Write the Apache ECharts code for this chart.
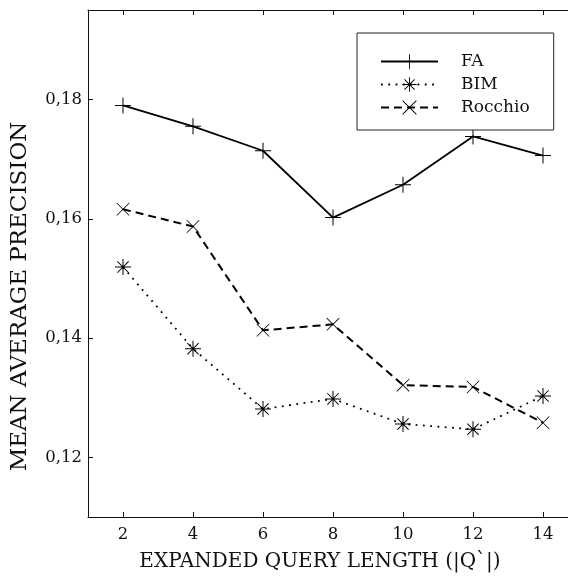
<!DOCTYPE html>
<html><head><meta charset="utf-8">
<script src="https://cdn.jsdelivr.net/npm/echarts@6/dist/echarts.min.js"></script>
<style>html,body{margin:0;padding:0;background:#fff}#c{width:568px;height:577px}</style>
</head><body><div id="c"></div>
<script>
const xValues = [2, 4, 6, 8, 10, 12, 14];
const faValues = [0.1790, 0.1755, 0.1714, 0.1602, 0.1657, 0.1738, 0.1706];
const bimValues = [0.1519, 0.1382, 0.1281, 0.1298, 0.1256, 0.1247, 0.1303];
const rocchioValues = [0.1616, 0.1587, 0.1413, 0.1423, 0.1321, 0.1318, 0.1258];
const xTicks = [2, 4, 6, 8, 10, 12, 14];
const yTicks = [0.12, 0.14, 0.16, 0.18];
const seriesNames = ['FA', 'BIM', 'Rocchio'];

const FONT = 'DejaVu Serif';
const plusSym = 'path://M0,7.5L16,7.5L16,8.5L0,8.5Z M7.5,0L8.5,0L8.5,16L7.5,16Z';
const starSym = 'path://M0,7.5L16,7.5L16,8.5L0,8.5Z M7.5,0L8.5,0L8.5,16L7.5,16Z M2,2.7L2.7,2L14,13.3L13.3,14Z M13.3,2L14,2.7L2.7,14L2,13.3Z M6.6,6.6L9.4,6.6L9.4,9.4L6.6,9.4Z';
const xSym = 'path://M0,0.6L0.6,0L14,13.4L13.4,14Z M13.4,0L14,0.6L0.6,14L0,13.4Z';

const pairs = v => xValues.map((x, i) => [x, v[i]]);
const chart = echarts.init(document.getElementById('c'));
const axisLine = {show: true, lineStyle: {color: '#111', width: 1}};
const tick = {show: true, inside: true, length: 5, lineStyle: {color: '#111', width: 1}};
const X_MAX = 1 + 480 / 35;
chart.setOption({
  animation: false,
  backgroundColor: '#fff',
  grid: {left: 88, top: 10, bottom: 60, right: 0},
  xAxis: [{
    type: 'value', min: 1, max: X_MAX, position: 'bottom',
    axisLine, splitLine: {show: false},
    axisTick: Object.assign({}, tick, {customValues: xTicks}),
    axisLabel: {customValues: xTicks, fontFamily: FONT, fontSize: 16.5, color: '#111', margin: 9},
    name: 'EXPANDED QUERY LENGTH (|Q`|)', nameLocation: 'middle', nameGap: 35, nameMoveOverlap: false,
    nameTextStyle: {fontFamily: FONT, fontSize: 20, color: '#111', padding: [0, 16, 0, 0]}
  }, {
    type: 'value', min: 1, max: X_MAX, position: 'top',
    axisLine, splitLine: {show: false},
    axisTick: Object.assign({}, tick, {customValues: xTicks}),
    axisLabel: {show: false}
  }],
  yAxis: [{
    type: 'value', min: 0.11, max: 0.195, position: 'left',
    axisLine, splitLine: {show: false},
    axisTick: Object.assign({}, tick, {customValues: yTicks}),
    axisLabel: {customValues: yTicks, fontFamily: FONT, fontSize: 16.5, color: '#111', margin: 6,
      formatter: v => v.toFixed(2).replace('.', ',')},
    name: 'MEAN AVERAGE PRECISION', nameLocation: 'middle', nameGap: 56, nameMoveOverlap: false,
    nameTextStyle: {fontFamily: FONT, fontSize: 23, color: '#111', padding: [0, 66, 0, 0]}
  }, {
    type: 'value', min: 0.11, max: 0.195, position: 'right',
    axisLine: {show: false}, splitLine: {show: false},
    axisTick: {show: false},
    axisLabel: {show: false}
  }],
  legend: {
    orient: 'vertical', left: 357, top: 33,
    backgroundColor: '#fff', borderColor: '#222', borderWidth: 1,
    padding: [20, 24, 14, 23], itemWidth: 57, itemHeight: 18, itemGap: 6,
    textStyle: {fontFamily: FONT, fontSize: 17, color: '#111', padding: [0, 0, 0, 18]},
    data: seriesNames
  },
  series: [{
    name: seriesNames[0], type: 'line', data: pairs(faValues),
    symbol: plusSym, symbolSize: 16,
    lineStyle: {color: '#000', width: 1.8, type: 'solid'},
    itemStyle: {color: '#000', borderWidth: 0}
  }, {
    name: seriesNames[1], type: 'line', data: pairs(bimValues),
    symbol: starSym, symbolSize: 16,
    lineStyle: {color: '#000', width: 1.8, type: [1.8, 5.5]},
    itemStyle: {color: '#000', borderWidth: 0}
  }, {
    name: seriesNames[2], type: 'line', data: pairs(rocchioValues),
    symbol: xSym, symbolSize: 13,
    lineStyle: {color: '#000', width: 2, type: [8, 5]},
    itemStyle: {color: '#000', borderWidth: 0}
  }]
});
</script></body></html>
